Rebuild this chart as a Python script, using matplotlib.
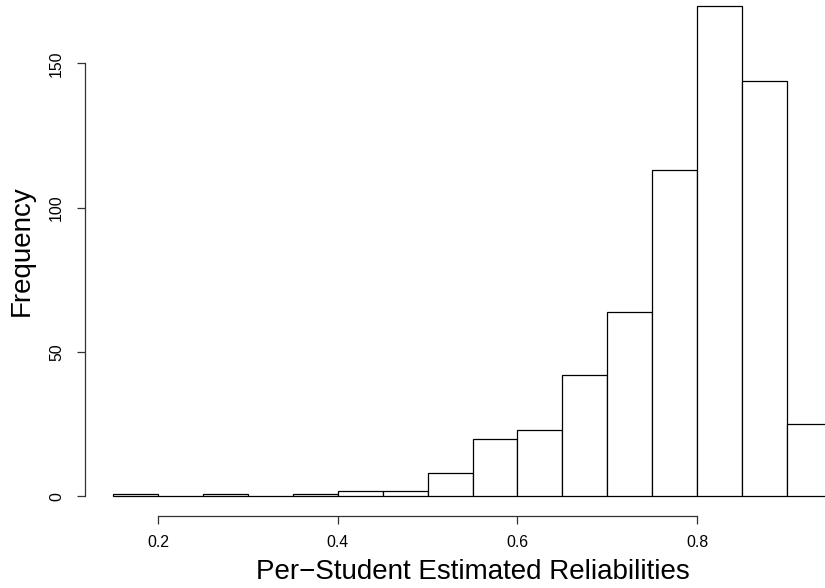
import numpy as np
import matplotlib
matplotlib.use("Agg")
import matplotlib.pyplot as plt

plt.rcParams['font.family'] = ['Liberation Sans', 'DejaVu Sans']

# histogram bins (width 0.05) and counts
bin_edges = [0.15, 0.20, 0.25, 0.30, 0.35, 0.40, 0.45, 0.50, 0.55,
             0.60, 0.65, 0.70, 0.75, 0.80, 0.85, 0.90, 0.95]
counts = [1, 0, 1, 0, 1, 2, 2, 8, 20, 23, 42, 64, 113, 170, 144, 25]
x_ticks = [0.2, 0.4, 0.6, 0.8]
y_ticks = [0, 50, 100, 150]

fig = plt.figure(figsize=(8.25, 5.88), dpi=100)
# plot region like R's (4% padding), partly outside the cropped image
ax = fig.add_axes([0.1027, 0.1224, 0.9402, 0.9015])

mids = [(a + b) / 2 for a, b in zip(bin_edges[:-1], bin_edges[1:])]
ax.hist(mids, bins=bin_edges, weights=counts, histtype='bar',
        facecolor='white', edgecolor='black', linewidth=0.9)

ax.set_xlim(0.118, 0.982)
ax.set_ylim(-6.8, 176.8)

for s in ['top', 'right']:
    ax.spines[s].set_visible(False)
ax.spines['left'].set_bounds(0, 150)
ax.spines['bottom'].set_bounds(0.2, 0.8)
for s in ['left', 'bottom']:
    ax.spines[s].set_linewidth(0.9)
    ax.spines[s].set_color('#333333')

ax.set_xticks(x_ticks)
ax.set_xticklabels([str(t) for t in x_ticks])
ax.set_yticks(y_ticks)
ax.set_yticklabels([str(t) for t in y_ticks], rotation=90, va='center')
ax.tick_params(direction='out', length=6, width=0.9, labelsize=11.4,
               color='#333333')
ax.tick_params(axis='x', pad=8)
ax.tick_params(axis='y', pad=9)

ax.set_xlabel('Per\u2212Student Estimated Reliabilities', fontsize=20, labelpad=6)
ax.set_ylabel('Frequency', fontsize=20, labelpad=10)

fig.savefig('out.png', dpi=100)
